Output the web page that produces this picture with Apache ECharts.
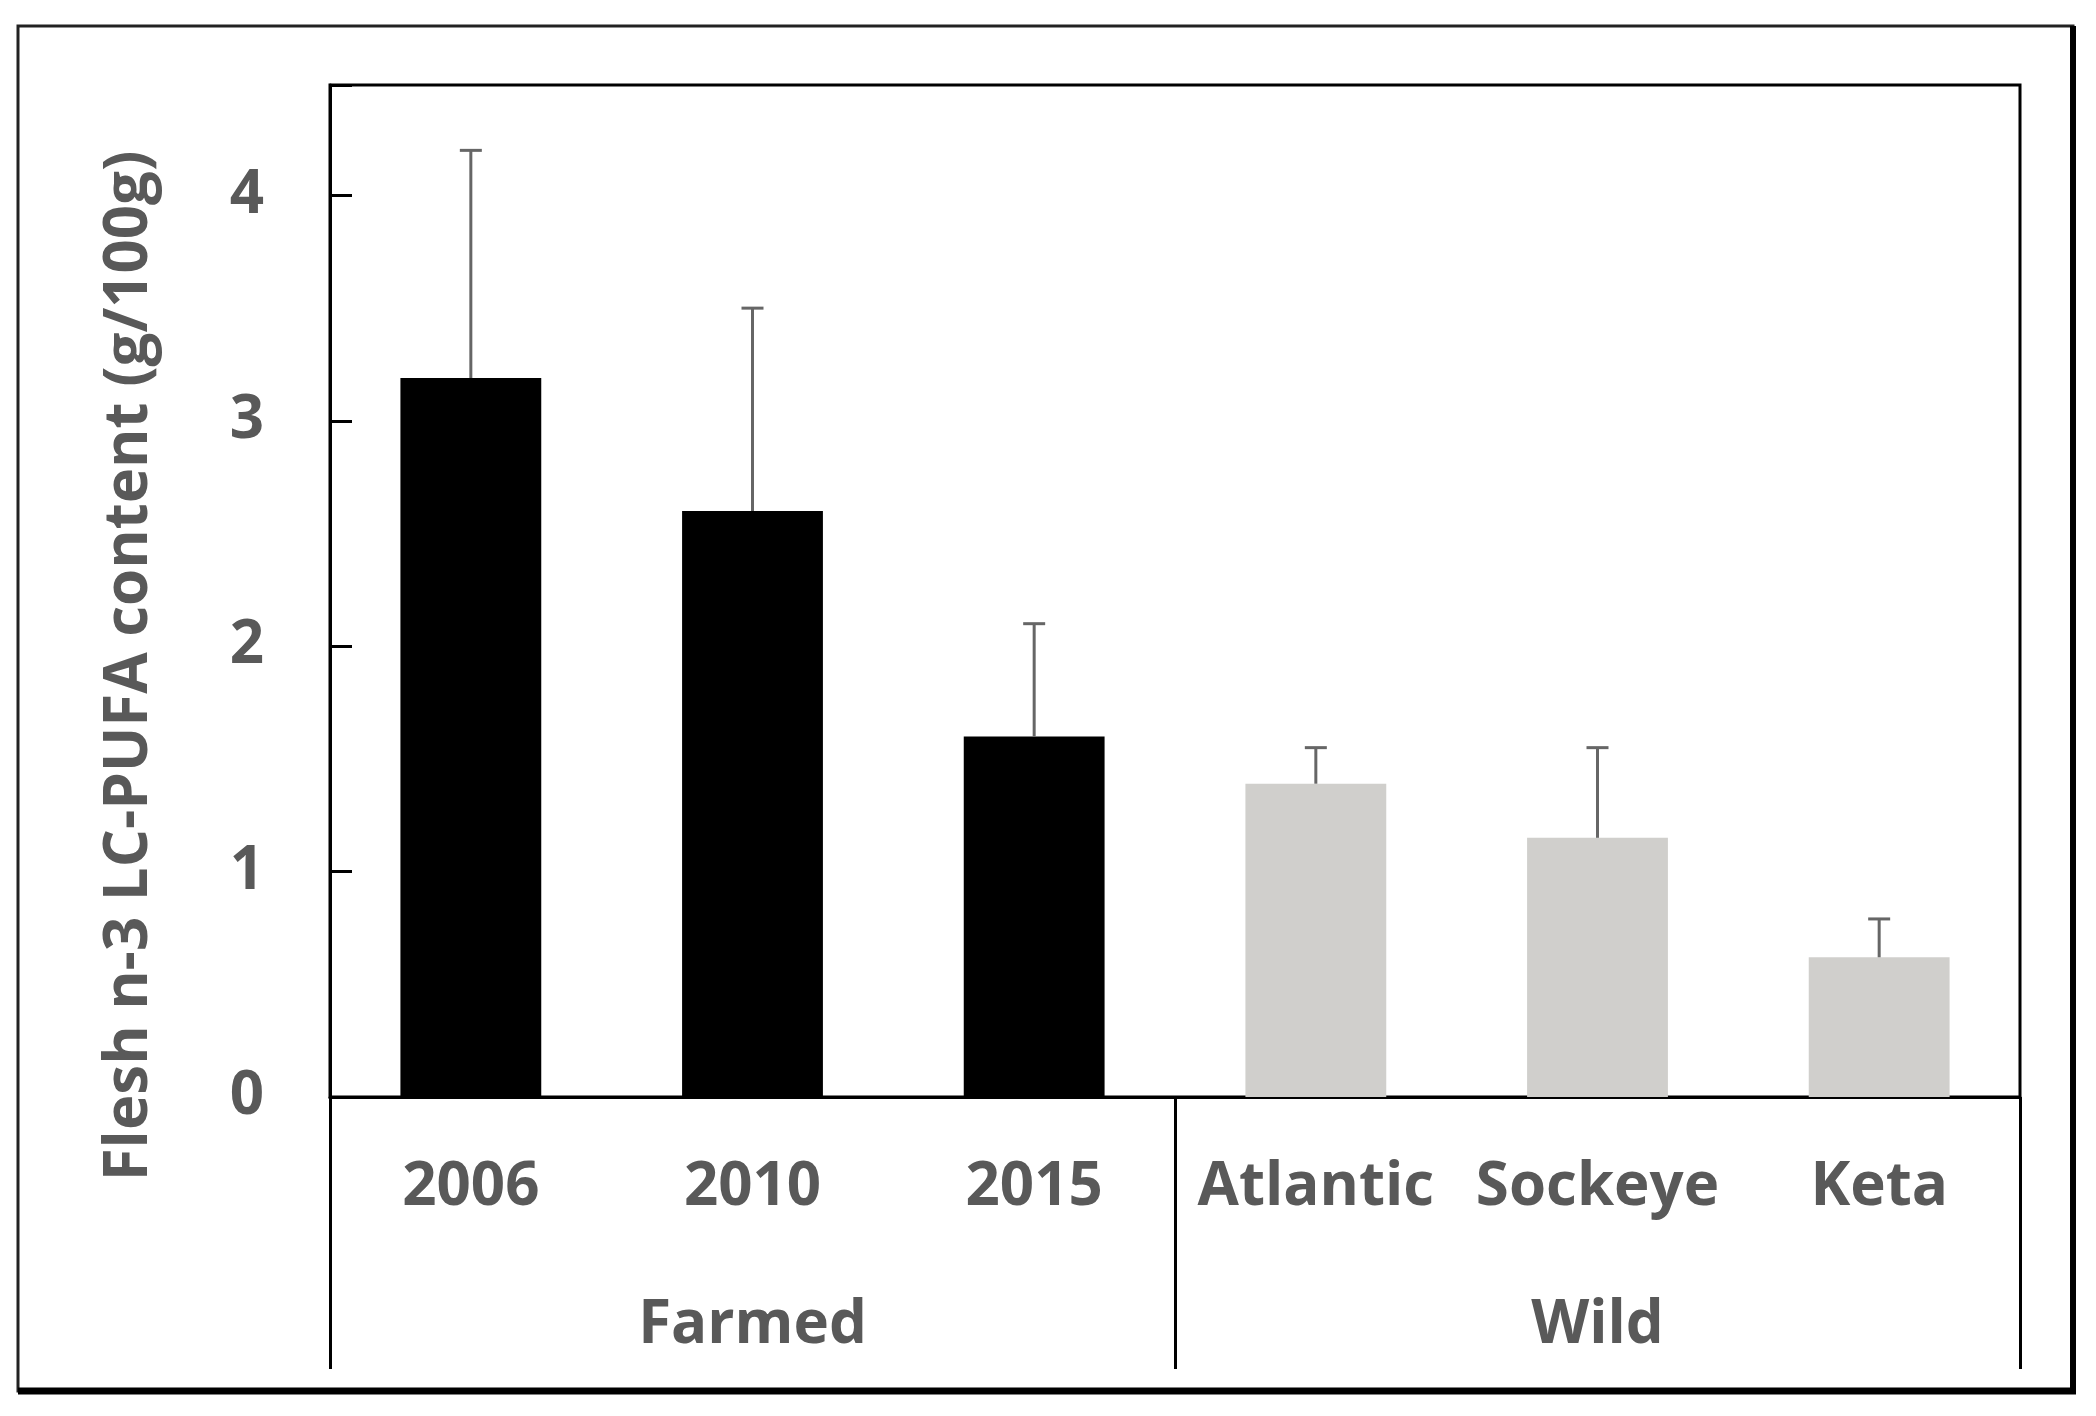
<!DOCTYPE html>
<html>
<head>
<meta charset="utf-8">
<script src="https://cdn.jsdelivr.net/npm/echarts@6/dist/echarts.min.js"></script>
<style>
  html, body { margin: 0; padding: 0; background: #fff; }
  #chart { width: 2096px; height: 1416px; }
</style>
</head>
<body>
<div id="chart"></div>
<script>
// 数据
const categories = ['2006', '2010', '2015', 'Atlantic', 'Sockeye', 'Keta']
const groups = ['Farmed', 'Wild']
const means = [3.19, 2.6, 1.6, 1.39, 1.15, 0.62]
const upper = [4.2, 3.5, 2.1, 1.55, 1.55, 0.79]
const yTicks = [0, 1, 2, 3, 4]

const textColor = '#595959'
const font = '"Open Sans", "Noto Sans", sans-serif'
const farmedColor = '#000000'
const wildColor = '#d0cfcc'

const barColors = categories.map((c, i) => (i < 3 ? farmedColor : wildColor))

const chart = echarts.init(document.getElementById('chart'))

chart.setOption({
  animation: false,
  backgroundColor: '#ffffff',
  grid: {
    left: 330,
    right: 76,
    top: 85,
    bottom: 319,
    show: true,
    borderColor: '#000',
    borderWidth: 3
  },
  xAxis: [
    {
      type: 'category',
      data: categories,
      axisLine: { lineStyle: { color: '#000', width: 3 } },
      axisTick: { show: false },
      axisLabel: {
        interval: 0,
        hideOverlap: false,
        color: textColor,
        fontFamily: font,
        fontWeight: 'bold',
        fontSize: 60,
        margin: 61
      }
    },
    {
      type: 'category',
      data: groups,
      position: 'bottom',
      axisLine: { show: false },
      axisTick: {
        show: true,
        interval: 0,
        length: 272,
        lineStyle: { color: '#000', width: 3 }
      },
      axisLabel: {
        interval: 0,
        color: textColor,
        fontFamily: font,
        fontWeight: 'bold',
        fontSize: 60,
        margin: 199
      }
    }
  ],
  yAxis: {
    type: 'value',
    min: 0,
    max: 4.49,
    interval: 1,
    name: 'Flesh n-3 LC-PUFA content (g/100g)',
    nameLocation: 'middle',
    nameRotate: 90,
    nameGap: 170,
    nameTextStyle: {
      color: textColor,
      fontFamily: font,
      fontWeight: 'bold',
      fontSize: 60,
      padding: [0, 150, 0, 0]
    },
    splitLine: { show: false },
    axisLine: { show: true, lineStyle: { color: '#000', width: 3 } },
    axisTick: { show: true, inside: true, length: 22, lineStyle: { color: '#000', width: 3 } },
    axisLabel: {
      color: textColor,
      fontFamily: font,
      fontWeight: 'bold',
      fontSize: 60,
      margin: 66,
      formatter: v => (yTicks.indexOf(v) >= 0 ? String(v) : '')
    }
  },
  series: [
    {
      type: 'bar',
      xAxisIndex: 0,
      barCategoryGap: '50%',
      data: means.map((v, i) => ({ value: v, itemStyle: { color: barColors[i] } })),
      z: 2
    },
    {
      // 误差线
      type: 'custom',
      xAxisIndex: 0,
      z: 3,
      data: means.map((v, i) => [i, v, upper[i]]),
      renderItem: (params, api) => {
        const low = api.coord([api.value(0), api.value(1)])
        const high = api.coord([api.value(0), api.value(2)])
        const cap = 11
        const style = { stroke: '#666666', lineWidth: 3 }
        return {
          type: 'group',
          children: [
            { type: 'line', shape: { x1: low[0], y1: low[1], x2: high[0], y2: high[1] }, style },
            { type: 'line', shape: { x1: high[0] - cap, y1: high[1], x2: high[0] + cap, y2: high[1] }, style }
          ]
        }
      }
    }
  ],
  graphic: [
    {
      type: 'rect',
      shape: { x: 18, y: 26, width: 2055, height: 1365 },
      style: { fill: 'none', stroke: '#222', lineWidth: 3 },
      silent: true
    },
    {
      type: 'line',
      shape: { x1: 18, y1: 1391, x2: 2076, y2: 1391 },
      style: { stroke: '#000', lineWidth: 7 },
      silent: true
    },
    {
      type: 'line',
      shape: { x1: 2073, y1: 26, x2: 2073, y2: 1394 },
      style: { stroke: '#000', lineWidth: 6 },
      silent: true
    }
  ]
})
</script>
</body>
</html>
